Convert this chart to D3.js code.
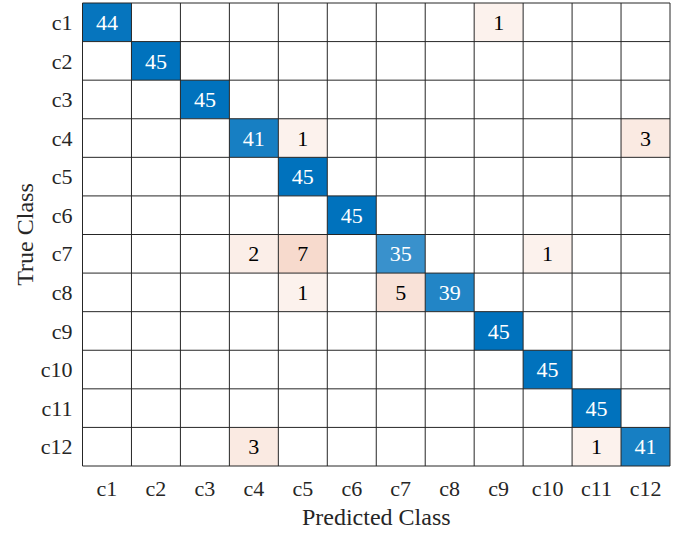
<!DOCTYPE html>
<html>
<head>
<meta charset="utf-8">
<script src="https://cdn.jsdelivr.net/npm/d3@7"></script>
<style>
  body { margin: 0; background: #fff; }
  svg { display: block; }
  text { font-family: "Liberation Serif", "Times New Roman", serif; }
</style>
</head>
<body>
<svg width="680" height="533"></svg>
<script>
// class names
var classes = ["c1", "c2", "c3", "c4", "c5", "c6", "c7", "c8", "c9", "c10", "c11", "c12"];

// counts per true class (row), columns = predicted class
var c1Row  = [44, 0, 0, 0, 0, 0, 0, 0, 1, 0, 0, 0];
var c2Row  = [0, 45, 0, 0, 0, 0, 0, 0, 0, 0, 0, 0];
var c3Row  = [0, 0, 45, 0, 0, 0, 0, 0, 0, 0, 0, 0];
var c4Row  = [0, 0, 0, 41, 1, 0, 0, 0, 0, 0, 0, 3];
var c5Row  = [0, 0, 0, 0, 45, 0, 0, 0, 0, 0, 0, 0];
var c6Row  = [0, 0, 0, 0, 0, 45, 0, 0, 0, 0, 0, 0];
var c7Row  = [0, 0, 0, 2, 7, 0, 35, 0, 0, 1, 0, 0];
var c8Row  = [0, 0, 0, 0, 1, 0, 5, 39, 0, 0, 0, 0];
var c9Row  = [0, 0, 0, 0, 0, 0, 0, 0, 45, 0, 0, 0];
var c10Row = [0, 0, 0, 0, 0, 0, 0, 0, 0, 45, 0, 0];
var c11Row = [0, 0, 0, 0, 0, 0, 0, 0, 0, 0, 45, 0];
var c12Row = [0, 0, 0, 3, 0, 0, 0, 0, 0, 0, 1, 41];

var rows = [c1Row, c2Row, c3Row, c4Row, c5Row, c6Row, c7Row, c8Row, c9Row, c10Row, c11Row, c12Row];

var xLabel = "Predicted Class";
var yLabel = "True Class";

const FONT = '"Liberation Serif", "Times New Roman", serif';
const svg = d3.select('svg');
const margin = { left: 82.5, top: 3 };
const innerWidth = 670 - margin.left;
const innerHeight = 466 - margin.top;

const g = svg.append('g')
    .attr('transform', `translate(${margin.left},${margin.top})`);

const xScale = d3.scaleBand().domain(classes).range([0, innerWidth]);
const yScale = d3.scaleBand().domain(classes).range([0, innerHeight]);

// flatten into cells
var cells = [];
rows.forEach((r, i) => {
    r.forEach((v, j) => {
        cells.push({ t: classes[i], p: classes[j], value: v, diag: i == j });
    });
});
const maxVal = d3.max(cells, d => d.value);

// diagonal: white -> blue by value/max
const diagColor = d3.interpolateRgb("#ffffff", "rgb(0,114,189)");
// off diagonal: pale orange shades
const offColor = d3.scaleLinear()
    .domain([1, 7])
    .range(["#fcf2ed", "#f7dacd"]);
function cellFill(d) {
    if (d.value == 0) return "#ffffff";
    return d.diag ? diagColor(d.value / maxVal) : offColor(d.value);
}

g.selectAll('.cell')
    .data(cells)
    .enter().append('rect')
    .attr('class', 'cell')
    .attr('x', d => xScale(d.p))
    .attr('y', d => yScale(d.t))
    .attr('width', xScale.bandwidth())
    .attr('height', yScale.bandwidth())
    .attr('fill', cellFill);

// grid lines
var edges = d3.range(classes.length + 1);
g.selectAll('.vline')
    .data(edges)
    .enter().append('line')
    .attr('x1', i => i * xScale.bandwidth())
    .attr('x2', i => i * xScale.bandwidth())
    .attr('y1', 0)
    .attr('y2', innerHeight)
    .attr('stroke', '#262626')
    .attr('stroke-width', 1);
g.selectAll('.hline')
    .data(edges)
    .enter().append('line')
    .attr('y1', i => i * yScale.bandwidth())
    .attr('y2', i => i * yScale.bandwidth())
    .attr('x1', 0)
    .attr('x2', innerWidth)
    .attr('stroke', '#262626')
    .attr('stroke-width', 1);

// cell numbers
g.selectAll('.num')
    .data(cells.filter(d => d.value > 0))
    .enter().append('text')
    .attr('class', 'num')
    .attr('x', d => xScale(d.p) + xScale.bandwidth() / 2)
    .attr('y', d => yScale(d.t) + yScale.bandwidth() / 2)
    .attr('dy', '0.35em')
    .attr('text-anchor', 'middle')
    .attr('font-family', FONT)
    .attr('font-size', 22)
    .attr('fill', d => d.diag ? '#ffffff' : '#000000')
    .text(d => d.value);

// tick labels
g.selectAll('.xtick')
    .data(classes)
    .enter().append('text')
    .attr('x', d => xScale(d) + xScale.bandwidth() / 2)
    .attr('y', innerHeight + 22)
    .attr('dy', '0.35em')
    .attr('text-anchor', 'middle')
    .attr('font-family', FONT)
    .attr('font-size', 22)
    .attr('fill', '#262626')
    .text(d => d);

g.selectAll('.ytick')
    .data(classes)
    .enter().append('text')
    .attr('x', -10)
    .attr('y', d => yScale(d) + yScale.bandwidth() / 2)
    .attr('dy', '0.35em')
    .attr('text-anchor', 'end')
    .attr('font-family', FONT)
    .attr('font-size', 22)
    .attr('fill', '#262626')
    .text(d => d);

// axis titles
g.append('text')
    .attr('x', innerWidth / 2)
    .attr('y', innerHeight + 51)
    .attr('dy', '0.35em')
    .attr('text-anchor', 'middle')
    .attr('font-family', FONT)
    .attr('font-size', 24)
    .attr('fill', '#262626')
    .text(xLabel);

g.append('text')
    .attr('transform', `translate(${-58},${innerHeight / 2}) rotate(-90)`)
    .attr('dy', '0.35em')
    .attr('text-anchor', 'middle')
    .attr('font-family', FONT)
    .attr('font-size', 24)
    .attr('fill', '#262626')
    .text(yLabel);
</script>
</body>
</html>
